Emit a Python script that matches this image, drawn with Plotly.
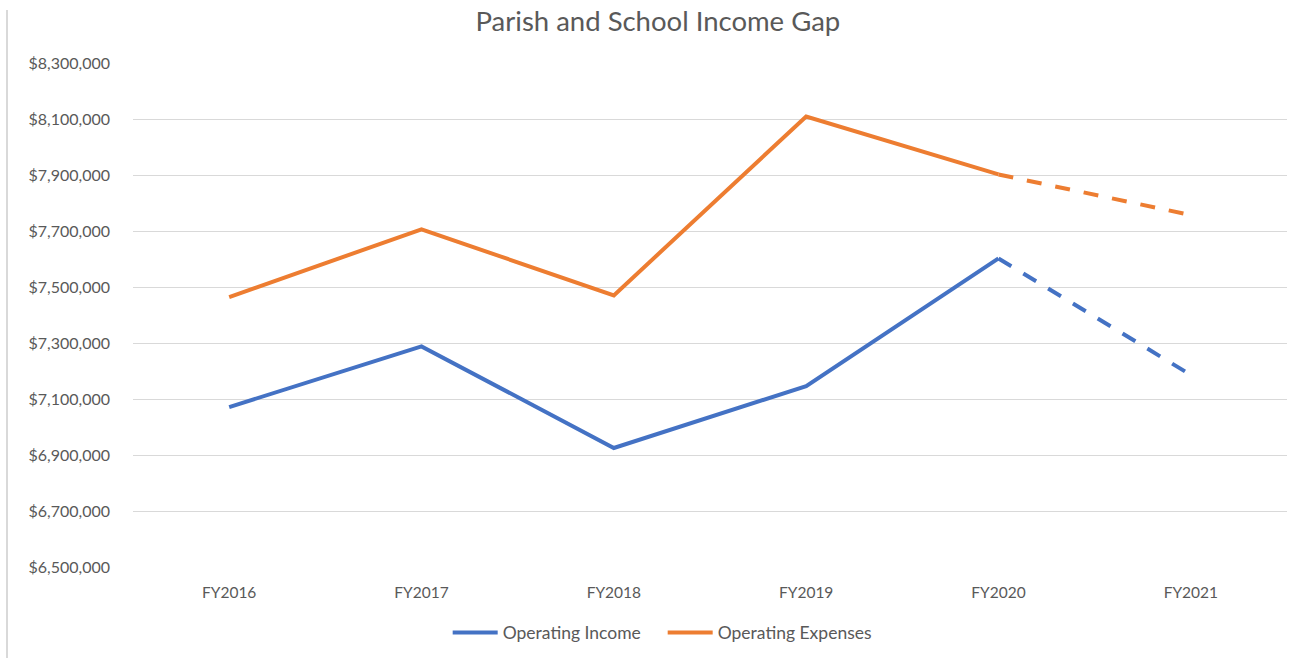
import plotly.graph_objects as go

years = ["FY2016", "FY2017", "FY2018", "FY2019", "FY2020", "FY2021"]
operating_income = [7071000, 7288000, 6925000, 7146000, 7602000, 7186000]
operating_expenses = [7464000, 7706000, 7470000, 8109000, 7902000, 7757000]
tick_vals = [6500000, 6700000, 6900000, 7100000, 7300000, 7500000, 7700000, 7900000, 8100000, 8300000]
tick_text = ["${:,}".format(v) for v in tick_vals]

BLUE = "#4472C4"
ORANGE = "#ED7D31"
FONT = "Lato, Carlito, 'Open Sans', sans-serif"
GREY = "#595959"

fig = go.Figure()
# solid parts (actual)
fig.add_trace(go.Scatter(x=years[:5], y=operating_income[:5], mode="lines", name="Operating Income",
                         line=dict(color=BLUE, width=4), legendgroup="inc"))
fig.add_trace(go.Scatter(x=years[:5], y=operating_expenses[:5], mode="lines", name="Operating Expenses",
                         line=dict(color=ORANGE, width=4), legendgroup="exp"))
# dashed projections
fig.add_trace(go.Scatter(x=years[4:], y=operating_income[4:], mode="lines", showlegend=False,
                         line=dict(color=BLUE, width=4, dash="15px,14px"), legendgroup="inc"))
fig.add_trace(go.Scatter(x=years[4:], y=operating_expenses[4:], mode="lines", showlegend=False,
                         line=dict(color=ORANGE, width=4, dash="15px,14px"), legendgroup="exp"))

fig.update_layout(
    width=1290, height=658,
    paper_bgcolor="white", plot_bgcolor="white",
    margin=dict(l=133, r=3, t=63, b=91),
    font=dict(family=FONT, color=GREY, size=16),
    title=dict(text="Parish and School Income Gap", x=0.51, xref="container", xanchor="center",
               y=0.967, yanchor="middle", font=dict(size=27.5, color=GREY, family=FONT)),
    xaxis=dict(type="category", range=[-0.5, 5.5], showgrid=False, showline=False, ticks="",
               tickfont=dict(size=15.5, color=GREY), ticklabelstandoff=14),
    yaxis=dict(range=[6500000, 8300000], tickvals=tick_vals, ticktext=tick_text,
               showgrid=True, gridcolor="#D9D9D9", gridwidth=1.3, zeroline=False, showline=False,
               ticks="", tickfont=dict(size=16, color=GREY), ticklabelstandoff=22),
    legend=dict(orientation="h", x=0.459, xanchor="center", y=-0.13, yanchor="middle",
                font=dict(size=17.5, color=GREY), itemwidth=45, tracegroupgap=0,
                entrywidth=155, entrywidthmode="pixels"),
    showlegend=True,
    shapes=[dict(type="line", xref="paper", yref="paper", x0=-0.1092, x1=-0.1092, y0=1.105, y1=-0.2,
                 line=dict(color="#D9D9D9", width=2))],
)

fig.write_html("out.html", config={"displayModeBar": False},
               post_script="document.body.style.margin='0';document.body.style.padding='0';")
